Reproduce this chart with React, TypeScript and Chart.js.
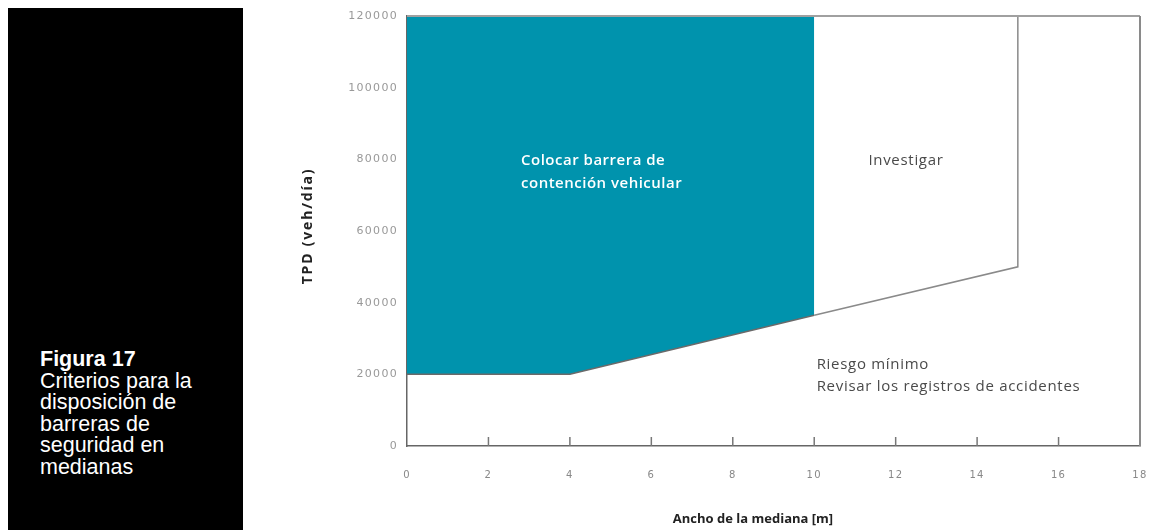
import React, { useEffect, useRef } from "react";
import { Chart, registerables } from "chart.js";

Chart.register(...registerables);

// Boundary of the "Colocar barrera" zone (lower edge, filled up to the top)
const barrierX = [0, 4, 10];
const barrierY = [20000, 20000, 36500];

// Boundary of the "Investigar" zone
const investigateX = [10, 15, 15];
const investigateY = [36500, 50000, 120000];

const xMin = 0;
const xMax = 18;
const xStep = 2;
const yMin = 0;
const yMax = 120000;
const yStep = 20000;

const xTitle = "Ancho de la mediana [m]";
const yTitle = "TPD (veh/día)";

const zoneText1 = ["Colocar barrera de", "contención vehicular"];
const zoneText2 = ["Investigar"];
const zoneText3 = ["Riesgo mínimo", "Revisar los registros de accidentes"];

const figureTitle = "Figura 17";
const figureCaption = ["Criterios para la", "disposición de", "barreras de", "seguridad en", "medianas"];

const TEAL = "#0093ad";

const decorPlugin = {
  id: "decor",
  beforeDraw(chart: any) {
    chart.ctx.letterSpacing = "1.3px";
  },
  beforeDatasetsDraw(chart: any) {
    chart.ctx.letterSpacing = "0px";
  },
  afterDatasetsDraw(chart: any) {
    const { ctx, chartArea, scales } = chart;
    const xs = scales.x;
    const ys = scales.y;
    ctx.save();
    // frame top & right
    ctx.strokeStyle = "#a0a0a0";
    ctx.lineWidth = 2;
    ctx.beginPath();
    ctx.moveTo(chartArea.left, chartArea.top);
    ctx.lineTo(chartArea.right, chartArea.top);
    ctx.stroke();
    ctx.strokeStyle = "#8a8a8a";
    ctx.beginPath();
    ctx.moveTo(chartArea.right, chartArea.top);
    ctx.lineTo(chartArea.right, chartArea.bottom);
    ctx.stroke();
    // inward x ticks
    ctx.strokeStyle = "#777";
    ctx.lineWidth = 1.5;
    for (let v = xMin + xStep; v < xMax; v += xStep) {
      const px = xs.getPixelForValue(v);
      ctx.beginPath();
      ctx.moveTo(px, chartArea.bottom);
      ctx.lineTo(px, chartArea.bottom - 9);
      ctx.stroke();
    }
    // zone texts
    ctx.textBaseline = "middle";
    ctx.textAlign = "left";
    const drawLines = (
      lines: string[],
      xv: number,
      yv: number,
      font: string,
      color: string,
      lh: number,
      spacing: string
    ) => {
      ctx.font = font;
      ctx.fillStyle = color;
      ctx.letterSpacing = spacing;
      const px = xs.getPixelForValue(xv);
      const py = ys.getPixelForValue(yv);
      lines.forEach((t, i) => ctx.fillText(t, px, py + i * lh));
    };
    drawLines(zoneText1, 2.8, 79500, "600 15px 'Open Sans'", "#ffffff", 23, "0.5px");
    drawLines(zoneText2, 11.33, 79500, "15px 'Open Sans'", "#4a4a4a", 23, "0.7px");
    drawLines(zoneText3, 10.06, 22600, "15px 'Open Sans'", "#4a4a4a", 22, "0.7px");
    // axis titles
    ctx.fillStyle = "#222";
    ctx.font = "bold 13px 'Open Sans'";
    ctx.letterSpacing = "0px";
    ctx.textAlign = "center";
    ctx.fillText(xTitle, 503, 511);
    ctx.save();
    ctx.translate(58, 218);
    ctx.rotate(-Math.PI / 2);
    ctx.font = "bold 14px 'Open Sans'";
    ctx.letterSpacing = "1.8px";
    ctx.fillText(yTitle, 0, 0);
    ctx.restore();
    ctx.letterSpacing = "0px";
    ctx.restore();
  },
};

function ChartView() {
  const ref = useRef<HTMLCanvasElement | null>(null);
  useEffect(() => {
    if (!ref.current) return;
    const chart = new Chart(ref.current, {
      type: "line",
      data: {
        datasets: [
          {
            data: barrierX.map((x, i) => ({ x, y: barrierY[i] })),
            borderColor: "#6a6a6a",
            borderWidth: 1.5,
            backgroundColor: TEAL,
            fill: "end",
            pointRadius: 0,
            tension: 0,
          },
          {
            data: investigateX.map((x, i) => ({ x, y: investigateY[i] })),
            borderColor: "#8a8a8a",
            borderWidth: 1.5,
            fill: false,
            pointRadius: 0,
            tension: 0,
          },
        ],
      },
      options: {
        responsive: false,
        animation: false,
        devicePixelRatio: 1,
        layout: { padding: { left: 0, right: 10, top: 8, bottom: 0 } },
        plugins: { legend: { display: false }, tooltip: { enabled: false } },
        scales: {
          x: {
            type: "linear",
            min: xMin,
            max: xMax,
            grid: { display: false, drawTicks: false, tickLength: 0 },
            border: { display: true, color: "#666", width: 1.5 },
            ticks: {
              stepSize: xStep,
              padding: 0,
              color: "#888",
              font: { family: "'DejaVu Sans'", size: 10, lineHeight: 5.8 },
            },
            afterFit(scale: any) {
              scale.height = 84;
              scale.paddingLeft = 0;
              scale.paddingRight = 0;
            },
          },
          y: {
            type: "linear",
            min: yMin,
            max: yMax,
            grid: { display: false, drawTicks: false, tickLength: 0 },
            border: { display: true, color: "#666", width: 1.5 },
            ticks: {
              stepSize: yStep,
              padding: 9,
              color: "#999",
              font: { family: "'DejaVu Sans'", size: 11 },
              callback: (v: any) => String(v),
            },
            afterFit(scale: any) {
              scale.width = 157;
              scale.paddingTop = 0;
              scale.paddingBottom = 0;
            },
          },
        },
      },
      plugins: [decorPlugin],
    } as any);
    return () => chart.destroy();
  }, []);
  return (
    <canvas
      ref={ref}
      width={900}
      height={522}
      style={{ position: "absolute", left: 250, top: 8, width: 900, height: 522, display: "block" }}
    />
  );
}

export default function App() {
  useEffect(() => {
    const prev = document.body.style.margin;
    document.body.style.margin = "0";
    return () => {
      document.body.style.margin = prev;
    };
  }, []);
  return (
    <div style={{ position: "relative", width: 1150, height: 530, background: "#fff", overflow: "hidden" }}>
      <div
        style={{
          position: "absolute",
          left: 8,
          top: 8,
          width: 235,
          height: 522,
          background: "#000",
        }}
      >
        <div
          style={{
            position: "absolute",
            left: 32,
            top: 341,
            color: "#fff",
            fontFamily: "'Liberation Sans', Arial, sans-serif",
            fontSize: 21.5,
            lineHeight: "21.6px",
            whiteSpace: "nowrap",
          }}
        >
          <div style={{ fontWeight: "bold" }}>{figureTitle}</div>
          {figureCaption.map((t, i) => (
            <div key={i}>{t}</div>
          ))}
        </div>
      </div>
      <ChartView />
    </div>
  );
}
